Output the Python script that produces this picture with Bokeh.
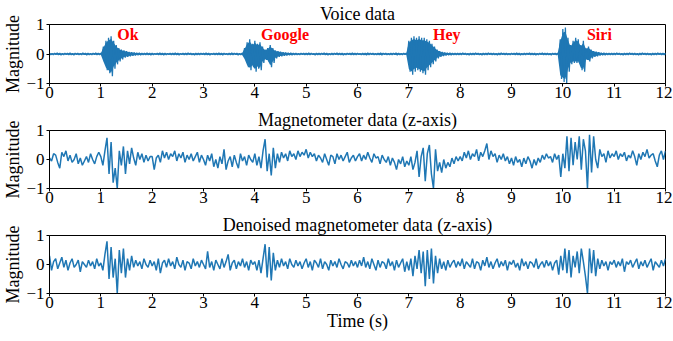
import numpy as np
from bokeh.plotting import figure
from bokeh.layouts import column
from bokeh.models import FixedTicker, Range1d
from bokeh.embed import file_html
from bokeh.resources import INLINE
from bokeh.core.properties import value

FONT = "Liberation Serif"
BLUE = "#1f77b4"

# ---------------- data ----------------
x_ticks = [0, 1, 2, 3, 4, 5, 6, 7, 8, 9, 10, 11, 12]
y_ticks = [-1, 0, 1]
panel_titles = ["Voice data", "Magnetometer data (z-axis)", "Denoised magnetometer data (z-axis)"]
word_labels = ["Ok", "Google", "Hey", "Siri"]
word_times = [1.32, 4.12, 7.47, 10.47]
word_level = [0.65, 0.65, 0.65, 0.65]

# voice signal envelope (upper / lower), one value every 0.05 s
voice_step = 0.05
voice_hi = [
    0.03, 0.02, 0.03, 0.04, 0.03, 0.02, 0.03, 0.03, 0.04, 0.02, 0.03, 0.03, 0.02, 0.04, 0.03, 0.03, 0.02, 0.03, 0.04, 0.03,
    0.03, 0.25, 0.45, 0.55, 0.60, 0.45, 0.30, 0.20, 0.15, 0.12, 0.10, 0.07, 0.06, 0.05, 0.04, 0.04, 0.03, 0.03, 0.04, 0.03,
    0.03, 0.02, 0.03, 0.04, 0.03, 0.03, 0.02, 0.03, 0.03, 0.04, 0.03, 0.02, 0.03, 0.03, 0.04, 0.03, 0.02, 0.03, 0.03, 0.03,
    0.03, 0.04, 0.03, 0.02, 0.03, 0.03, 0.04, 0.03, 0.03, 0.02, 0.03, 0.04, 0.03, 0.03, 0.02, 0.03, 0.20, 0.40, 0.50, 0.35,
    0.45, 0.35, 0.40, 0.25, 0.15, 0.20, 0.30, 0.20, 0.12, 0.10, 0.08, 0.06, 0.05, 0.04, 0.04, 0.03, 0.03, 0.02, 0.03, 0.03,
    0.03, 0.04, 0.03, 0.02, 0.03, 0.03, 0.03, 0.04, 0.03, 0.02, 0.03, 0.03, 0.04, 0.03, 0.03, 0.02, 0.03, 0.03, 0.04, 0.03,
    0.03, 0.02, 0.03, 0.03, 0.04, 0.03, 0.03, 0.02, 0.03, 0.04, 0.03, 0.03, 0.02, 0.03, 0.03, 0.04, 0.03, 0.02, 0.03, 0.03,
    0.45, 0.55, 0.60, 0.55, 0.60, 0.55, 0.55, 0.50, 0.45, 0.35, 0.25, 0.15, 0.10, 0.07, 0.05, 0.04, 0.04, 0.03, 0.03, 0.03,
    0.03, 0.04, 0.03, 0.02, 0.03, 0.03, 0.04, 0.03, 0.02, 0.03, 0.03, 0.04, 0.03, 0.03, 0.02, 0.03, 0.04, 0.03, 0.03, 0.02,
    0.03, 0.03, 0.04, 0.03, 0.02, 0.03, 0.03, 0.04, 0.03, 0.03, 0.02, 0.03, 0.04, 0.03, 0.03, 0.02, 0.03, 0.03, 0.03, 0.50,
    0.85, 0.90, 0.55, 0.30, 0.45, 0.55, 0.50, 0.30, 0.45, 0.20, 0.25, 0.15, 0.10, 0.08, 0.06, 0.04, 0.04, 0.03, 0.03, 0.03,
    0.03, 0.04, 0.03, 0.02, 0.03, 0.03, 0.04, 0.03, 0.03, 0.02, 0.03, 0.04, 0.03, 0.03, 0.02, 0.03, 0.03, 0.04, 0.03, 0.03,
    0.03,
]
voice_lo = [
    -0.03, -0.03, -0.02, -0.03, -0.04, -0.03, -0.02, -0.03, -0.03, -0.04, -0.02, -0.03, -0.03, -0.02, -0.04, -0.03, -0.03, -0.02, -0.03, -0.03,
    -0.03, -0.30, -0.55, -0.65, -0.75, -0.50, -0.35, -0.25, -0.18, -0.12, -0.10, -0.08, -0.06, -0.05, -0.04, -0.04, -0.03, -0.03, -0.03, -0.04,
    -0.03, -0.02, -0.03, -0.03, -0.04, -0.03, -0.02, -0.03, -0.03, -0.03, -0.04, -0.02, -0.03, -0.03, -0.02, -0.03, -0.04, -0.03, -0.03, -0.02,
    -0.03, -0.03, -0.04, -0.02, -0.03, -0.03, -0.03, -0.04, -0.02, -0.03, -0.03, -0.03, -0.02, -0.04, -0.03, -0.03, -0.20, -0.45, -0.55, -0.45,
    -0.60, -0.50, -0.55, -0.30, -0.20, -0.25, -0.45, -0.30, -0.15, -0.10, -0.08, -0.06, -0.05, -0.04, -0.04, -0.03, -0.03, -0.03, -0.02, -0.03,
    -0.03, -0.03, -0.02, -0.04, -0.03, -0.03, -0.02, -0.03, -0.04, -0.03, -0.03, -0.02, -0.03, -0.03, -0.04, -0.03, -0.02, -0.03, -0.03, -0.03,
    -0.02, -0.03, -0.03, -0.04, -0.03, -0.02, -0.03, -0.03, -0.03, -0.04, -0.02, -0.03, -0.03, -0.03, -0.02, -0.04, -0.03, -0.03, -0.02, -0.03,
    -0.60, -0.70, -0.60, -0.55, -0.60, -0.65, -0.70, -0.55, -0.45, -0.35, -0.25, -0.15, -0.10, -0.07, -0.05, -0.04, -0.04, -0.03, -0.03, -0.03,
    -0.03, -0.02, -0.03, -0.04, -0.03, -0.03, -0.02, -0.03, -0.04, -0.03, -0.03, -0.02, -0.03, -0.03, -0.04, -0.03, -0.02, -0.03, -0.03, -0.03,
    -0.02, -0.03, -0.03, -0.04, -0.03, -0.03, -0.02, -0.03, -0.03, -0.04, -0.03, -0.02, -0.03, -0.03, -0.03, -0.04, -0.02, -0.03, -0.03, -0.85,
    -0.95, -1.00, -0.60, -0.35, -0.30, -0.30, -0.30, -0.55, -0.60, -0.20, -0.25, -0.15, -0.10, -0.08, -0.05, -0.04, -0.04, -0.03, -0.03, -0.03,
    -0.03, -0.02, -0.03, -0.04, -0.03, -0.03, -0.02, -0.03, -0.03, -0.04, -0.03, -0.02, -0.03, -0.03, -0.04, -0.03, -0.03, -0.02, -0.03, -0.03,
    -0.03,
]

# magnetometer z-axis, one value every 0.04 s
mag_step = 0.04
mag_raw = [
    0.05, -0.05, 0.2, 0.15, -0.1, -0.3, 0.25, 0.1, 0.3, -0.05, 0.15, -0.1, 0.0, 0.2, -0.15, 0.05, -0.2, -0.05, 0.1, -0.1, 0.2, 0.0, -0.15, 0.1, 0.25,
    0.1, -0.2, 0.3, 0.75, -0.5, 0.6, -0.8, -0.3, -1.0, 0.3, -0.2, 0.45, -0.5, 0.3, -0.15, 0.4, 0.05, -0.2, 0.25, 0.0, 0.2, -0.1, 0.15, -0.05, 0.1,
    0.1, -0.35, 0.05, 0.15, -0.1, 0.3, 0.05, 0.25, 0.0, 0.2, 0.1, 0.3, -0.05, 0.2, 0.05, 0.25, -0.1, 0.15, 0.0, 0.2, -0.05, 0.1, 0.25, -0.1, 0.15,
    0.0, -0.2, 0.15, -0.05, 0.2, -0.25, 0.0, -0.3, 0.1, -0.15, 0.35, -0.35, -0.05, 0.1, -0.25, 0.15, -0.1, -0.3, 0.2, -0.05, 0.1, -0.2, 0.15, 0.0, -0.1,
    0.2, -0.2, 0.1, -0.3, 0.3, 0.7, -0.4, 0.2, -0.55, 0.4, -0.3, 0.2, -0.1, 0.25, 0.05, 0.2, -0.05, 0.3, 0.1, 0.2, 0.0, 0.3, 0.1, 0.25, 0.15,
    0.35, 0.05, 0.25, 0.1, 0.2, -0.05, 0.15, 0.05, -0.1, 0.2, 0.0, -0.2, 0.15, 0.1, -0.15, 0.2, 0.0, 0.15, -0.05, 0.1, 0.25, -0.1, 0.05, 0.15, -0.05,
    0.1, 0.2, -0.05, 0.15, 0.0, 0.25, 0.05, -0.1, 0.2, 0.05, 0.1, -0.15, 0.15, 0.0, -0.1, 0.1, -0.2, 0.05, -0.1, -0.35, 0.0, -0.15, 0.1, -0.25, -0.05,
    -0.2, 0.1, -0.35, -0.1, 0.3, -0.6, 0.1, 0.4, -0.75, 0.2, 0.5, -0.5, -1.0, 0.35, -0.4, -0.1, -0.45, 0.0, -0.3, -0.1, -0.25, 0.05, -0.15, 0.1, -0.05,
    0.1, -0.05, 0.25, 0.05, 0.3, 0.0, 0.2, 0.1, 0.35, -0.05, 0.25, 0.1, 0.3, 0.55, 0.0, 0.3, 0.1, 0.2, -0.1, 0.15, 0.0, 0.2, -0.05, 0.1, -0.15,
    0.05, -0.2, 0.1, -0.1, 0.0, -0.25, 0.05, -0.15, 0.1, -0.05, -0.3, 0.0, -0.2, 0.05, -0.1, 0.15, 0.0, 0.2, 0.05, 0.1, -0.1, 0.2, 0.0, 0.15, -0.6,
    0.2, -0.3, 0.8, -0.4, 0.75, -0.2, 0.6, 0.0, 0.8, -0.35, 0.7, 0.3, -1.0, 0.85, -0.45, 0.8, 0.0, -0.3, 0.35, 0.1, 0.2, -0.1, 0.3, 0.05, 0.2,
    0.1, 0.3, 0.0, 0.2, 0.1, 0.25, -0.05, 0.15, 0.05, 0.3, 0.1, -0.2, 0.2, 0.0, 0.25, 0.1, 0.35, 0.05, 0.15, 0.2, -0.05, -0.25, 0.15, 0.3, 0.0,
    0.3,
]
mag_denoised = [
    0.3, -0.2, 0.1, 0.2, -0.15, 0.05, 0.25, -0.1, 0.15, -0.2, 0.05, 0.2, -0.1, 0.0, 0.15, -0.25, 0.1, 0.0, -0.1, 0.15, -0.05, 0.1, -0.15, 0.2, -0.05,
    0.05, -0.2, 0.35, 0.8, -0.5, 0.6, -0.45, 0.2, -1.0, 0.5, -0.3, 0.55, -0.45, 0.2, -0.2, 0.3, -0.1, 0.15, -0.05, 0.1, -0.15, 0.2, 0.0, -0.1, 0.15,
    -0.05, 0.1, -0.2, 0.2, -0.3, 0.05, 0.15, -0.1, 0.2, -0.05, 0.1, -0.15, 0.25, 0.0, -0.1, 0.15, -0.2, 0.1, 0.05, -0.15, 0.2, -0.05, 0.1, -0.1, 0.15,
    0.0, -0.15, 0.45, -0.1, 0.1, -0.2, 0.15, 0.0, -0.15, 0.2, -0.1, 0.1, 0.35, -0.2, 0.05, 0.15, -0.15, 0.1, -0.05, 0.2, -0.1, 0.1, -0.2, 0.15, 0.0,
    0.1, -0.2, 0.15, -0.3, 0.2, 0.7, -0.45, 0.6, -0.55, 0.4, -0.2, 0.15, -0.1, 0.2, -0.05, 0.1, -0.15, 0.2, 0.0, -0.1, 0.15, -0.05, 0.1, -0.15, 0.05,
    0.2, -0.1, 0.1, -0.2, 0.15, 0.05, -0.1, 0.2, -0.15, 0.1, 0.0, -0.2, 0.15, -0.05, 0.1, -0.1, 0.2, 0.0, -0.15, 0.1, 0.05, -0.1, 0.15, -0.05, 0.1,
    -0.1, 0.15, -0.05, 0.25, -0.1, 0.1, -0.15, 0.2, 0.0, -0.2, 0.15, -0.1, 0.1, 0.05, -0.15, 0.2, -0.05, 0.1, -0.2, 0.15, -0.1, 0.05, 0.2, -0.25, 0.1,
    -0.2, 0.2, -0.4, 0.3, -0.15, 0.5, -0.3, 0.45, -0.75, 0.5, -0.5, 0.55, -0.65, 0.3, -0.3, 0.2, -0.15, 0.1, -0.2, 0.15, -0.1, 0.05, 0.15, -0.1, 0.1,
    -0.05, 0.2, -0.15, 0.1, 0.0, -0.1, 0.2, -0.15, 0.1, 0.05, -0.2, 0.15, -0.05, 0.25, -0.1, 0.1, -0.15, 0.05, 0.2, -0.1, 0.1, -0.05, 0.15, -0.2, 0.1,
    0.0, 0.15, -0.1, 0.05, -0.2, 0.2, -0.05, 0.1, -0.15, 0.1, 0.05, -0.1, 0.2, -0.15, 0.0, 0.1, -0.1, 0.15, -0.05, 0.1, -0.2, 0.05, 0.15, -0.35, 0.3,
    -0.2, 0.55, -0.3, 0.5, -0.45, 0.3, -0.1, 0.45, -0.3, 0.55, 0.1, -0.4, -1.0, 0.55, -0.3, 0.5, -0.4, 0.2, -0.15, 0.15, -0.05, 0.1, -0.2, 0.1, 0.0,
    0.15, -0.1, 0.1, -0.05, 0.2, -0.25, 0.1, 0.0, 0.15, -0.1, 0.05, 0.2, -0.15, 0.1, -0.05, 0.15, -0.1, 0.05, 0.2, -0.2, 0.1, 0.0, -0.1, 0.15, -0.05,
    0.2,
]


def make_panel(height, top, bottom, title, xlabel=None):
    p = figure(width=672, height=height, x_range=Range1d(0, 12), y_range=Range1d(-1, 1),
               output_backend="svg", toolbar_location=None,
               min_border_left=47, min_border_right=7,
               min_border_top=top, min_border_bottom=bottom)
    p.title.text = title
    p.title.align = "center"
    p.title.text_font = FONT
    p.title.text_font_size = "18px"
    p.title.text_font_style = "normal"
    p.title.text_color = "black"
    p.title.standoff = 2
    p.title.offset = 0
    p.xgrid.visible = False
    p.ygrid.visible = False
    p.outline_line_color = "black"
    p.outline_line_alpha = 1.0
    p.outline_line_width = 1
    p.background_fill_color = "white"
    p.border_fill_color = "white"
    p.xaxis.ticker = FixedTicker(ticks=x_ticks)
    p.yaxis.ticker = FixedTicker(ticks=y_ticks)
    for ax in (p.xaxis[0], p.yaxis[0]):
        ax.major_label_text_font = FONT
        ax.major_label_text_font_size = "17px"
        ax.major_label_text_color = "black"
        ax.major_tick_in = 0
        ax.major_tick_out = 3
        ax.minor_tick_in = 0
        ax.minor_tick_out = 0
        ax.axis_line_color = "black"
        ax.major_tick_line_color = "black"
        ax.axis_label_text_font = FONT
        ax.axis_label_text_font_size = "18px"
        ax.axis_label_text_font_style = "normal"
        ax.axis_label_text_color = "black"
    p.xaxis.major_label_standoff = 0
    p.yaxis.major_label_standoff = 2
    p.yaxis.axis_label = "Magnitude"
    p.yaxis.axis_label_standoff = 0
    if xlabel:
        p.xaxis.axis_label = xlabel
        p.xaxis.axis_label_standoff = 0
    return p


# Voice panel: envelope fill plus a dense zig-zag between the envelope values
n = min(len(voice_hi), len(voice_lo))
vt = np.arange(n) * voice_step
vhi = np.array(voice_hi[:n])
vlo = np.array(voice_lo[:n])
vx = np.empty(2 * n)
vy = np.empty(2 * n)
vx[0::2] = vt
vx[1::2] = vt + voice_step / 2
vy[0::2] = vhi
vy[1::2] = vlo

p1 = make_panel(106, 24, 23, panel_titles[0])
p1.varea(x=vt, y1=vlo * 0.85, y2=vhi * 0.85, fill_color=BLUE, fill_alpha=1.0)
p1.line(vx, vy, line_color=BLUE, line_width=1.3)
p1.text(x=word_times, y=word_level, text=word_labels, text_font=value(FONT),
        text_font_style="bold", text_color="red", text_font_size="16px",
        text_baseline="middle", text_align="left")

p2 = make_panel(105, 23, 23, panel_titles[1])
p2.line(np.arange(len(mag_raw)) * mag_step, mag_raw, line_color=BLUE, line_width=1.5)

p3 = make_panel(129, 23, 47, panel_titles[2], xlabel="Time (s)")
p3.line(np.arange(len(mag_denoised)) * mag_step, mag_denoised, line_color=BLUE, line_width=1.5)

layout = column(p1, p2, p3, spacing=0)
open("out.html", "w").write(file_html(layout, INLINE))
